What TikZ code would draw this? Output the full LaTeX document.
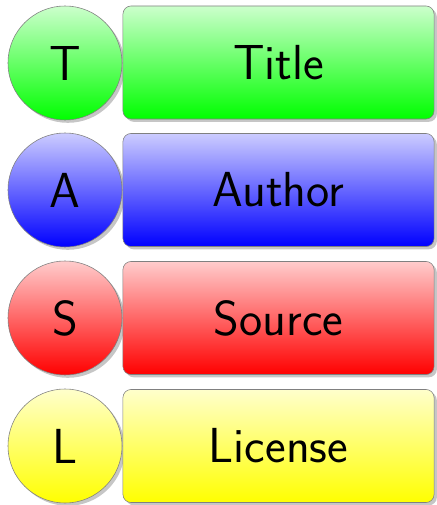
\documentclass[tikz,border=0pt]{standalone}
\usetikzlibrary{shadows}

\begin{document}
\begin{tikzpicture}[
    x=0.025cm, y=-0.025cm,
    letter/.style={circle, draw=gray, top color=#1!20, bottom color=#1,
        minimum size=2.85cm, inner sep=0pt,
        font=\sffamily\fontsize{35}{40}\selectfont,
        drop shadow={shadow xshift=0.07cm, shadow yshift=-0.07cm, opacity=0.45}},
    field/.style={rectangle, rounded corners=0.2cm, draw=gray,
        top color=#1!20, bottom color=#1,
        minimum width=7.775cm, minimum height=2.825cm, inner sep=0pt,
        font=\sffamily\fontsize{35}{40}\selectfont,
        drop shadow={shadow xshift=0.07cm, shadow yshift=-0.07cm, opacity=0.45}}
]
    \useasboundingbox (0,0) rectangle (436,505);
    \node[letter=green] (tcirc) at (65,63) {T};
    \node[field=green] (tbox) at (278.5,62.5) {Title};
    \node[letter=blue] (acirc) at (65,190) {A};
    \node[field=blue] (abox) at (278.5,190) {Author};
    \node[letter=red] (scirc) at (65,318) {S};
    \node[field=red] (sbox) at (278.5,318) {Source};
    \node[letter=yellow] (lcirc) at (65,446) {L};
    \node[field=yellow] (lbox) at (278.5,446) {License};
\end{tikzpicture}
\end{document}
